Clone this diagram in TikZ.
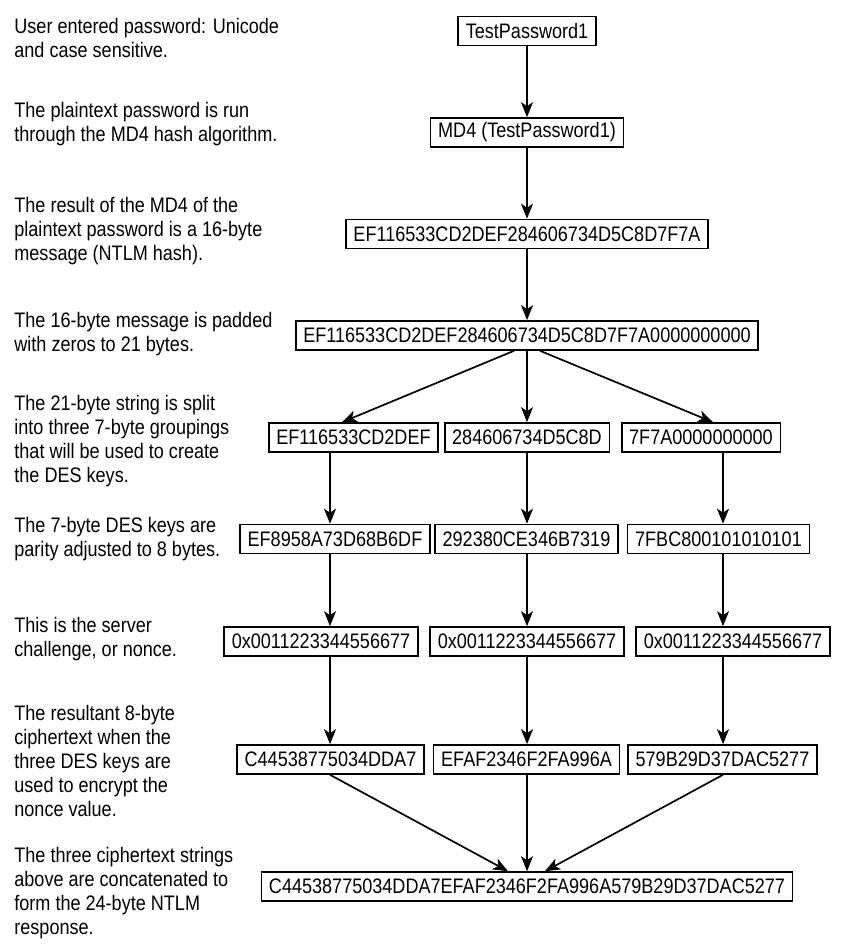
\documentclass[tikz,border=0pt]{standalone}
\usepackage{fontspec}
\setmainfont{Liberation Sans}[FakeStretch=0.86]
\usetikzlibrary{arrows.meta}

\begin{document}
\begin{tikzpicture}[x=0.5pt,y=-0.5pt,
    every node/.style={font=\fontsize{10.5pt}{12pt}\selectfont},
    hexbox/.style={draw, line width=0.8pt, inner xsep=3.75pt, inner ysep=0pt, minimum height=14.5pt},
    note/.style={align=left, anchor=west, inner sep=0pt},
    flow/.style={line width=0.85pt, -{Stealth[length=7.5pt,width=6pt,inset=2pt]}}]

    % Page size
    \useasboundingbox (0,0) rectangle (845,946);

    % Lanes for the three DES keys
    \coordinate (colA) at (330,0);
    \coordinate (colB) at (527,0);
    \coordinate (colC) at (723,0);

    % Explanations on the left
    \node[note] (n1) at (14,38) {User entered password: Unicode\\and case sensitive.};
    \node[note] (n2) at (14,124) {The plaintext password is run\\through the MD4 hash algorithm.};
    \node[note] (n3) at (14,231) {The result of the MD4 of the\\plaintext password is a 16-byte\\message (NTLM hash).};
    \node[note] (n4) at (14,334) {The 16-byte message is padded\\with zeros to 21 bytes.};
    \node[note] (n5) at (14,441) {The 21-byte string is split\\into three 7-byte groupings\\that will be used to create\\the DES keys.};
    \node[note] (n6) at (14,539) {The 7-byte DES keys are\\parity adjusted to 8 bytes.};
    \node[note] (n7) at (14,639) {This is the server\\challenge, or nonce.};
    \node[note] (n8) at (14,761) {The resultant 8-byte\\ciphertext when the\\three DES keys are\\used to encrypt the\\nonce value.};
    \node[note] (n9) at (14,893) {The three ciphertext strings\\above are concatenated to\\form the 24-byte NTLM\\response.};

    % Password and hash
    \node[hexbox] (pw) at (527,31) {TestPassword1};
    \node[hexbox] (md4) at (527,132.5) {MD4 (TestPassword1)};
    \node[hexbox] (hash) at (527,234) {EF116533CD2DEF284606734D5C8D7F7A};
    \node[hexbox] (pad) at (527,335.5) {EF116533CD2DEF284606734D5C8D7F7A0000000000};

    % Three 7-byte pieces
    \node[hexbox] (splitA) at (353.5,437.5) {EF116533CD2DEF};
    \node[hexbox] (splitB) at (527,437.5) {284606734D5C8D};
    \node[hexbox] (splitC) at (701,437.5) {7F7A0000000000};

    % DES keys
    \node[hexbox] (keyA) at (335,539) {EF8958A73D68B6DF};
    \node[hexbox] (keyB) at (526.5,539) {292380CE346B7319};
    \node[hexbox] (keyC) at (718.5,539) {7FBC800101010101};

    % Server challenge
    \node[hexbox] (nonceA) at (321,641.5) {0x0011223344556677};
    \node[hexbox] (nonceB) at (527,641.5) {0x0011223344556677};
    \node[hexbox] (nonceC) at (733,641.5) {0x0011223344556677};

    % Ciphertexts
    \node[hexbox] (ciphA) at (330.5,759.5) {C44538775034DDA7};
    \node[hexbox] (ciphB) at (526.5,759.5) {EFAF2346F2FA996A};
    \node[hexbox] (ciphC) at (722.5,759.5) {579B29D37DAC5277};

    % Response
    \node[hexbox] (resp) at (527,886.5) {C44538775034DDA7EFAF2346F2FA996A579B29D37DAC5277};

    % Arrows
    \draw[flow] (pw.south -| colB) -- (md4.north -| colB);
    \draw[flow] (md4.south -| colB) -- (hash.north -| colB);
    \draw[flow] (hash.south -| colB) -- (pad.north -| colB);

    \draw[flow] ([shift={(-13,0)}]pad.south) -- ([shift={(-11.5,0)}]splitA.north);
    \draw[flow] (pad.south -| colB) -- (splitB.north -| colB);
    \draw[flow] ([shift={(13,0)}]pad.south) -- ([shift={(12,0)}]splitC.north);

    \foreach \k/\c in {A/colA, B/colB, C/colC} {
        \draw[flow] (split\k.south -| \c) -- (key\k.north -| \c);
        \draw[flow] (key\k.south -| \c) -- (nonce\k.north -| \c);
        \draw[flow] (nonce\k.south -| \c) -- (ciph\k.north -| \c);
    }

    \draw[flow] (ciphA.south -| colA) -- ([shift={(-19,0)}]resp.north);
    \draw[flow] (ciphB.south -| colB) -- (resp.north -| colB);
    \draw[flow] (ciphC.south -| colC) -- ([shift={(18,0)}]resp.north);

\end{tikzpicture}
\end{document}
